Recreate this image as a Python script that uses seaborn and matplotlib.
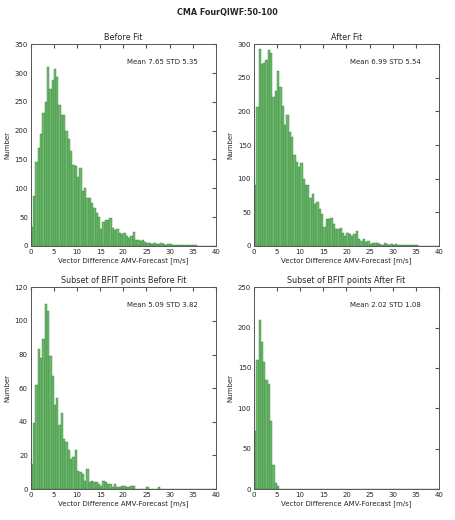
import numpy as np
import pandas as pd
import matplotlib
matplotlib.use("Agg")
import matplotlib.pyplot as plt
import seaborn as sns

# bins of 0.5 m/s from 0 to 40
edges = [i * 0.5 for i in range(81)]

before_fit = [33, 87, 145, 170, 195, 230, 250, 310, 272, 288,
              307, 293, 245, 227, 228, 200, 185, 165, 140, 138,
              120, 135, 95, 100, 83, 83, 75, 65, 58, 50,
              30, 42, 45, 45, 48, 32, 27, 30, 22, 20,
              22, 18, 13, 18, 25, 10, 10, 8, 10, 7,
              5, 6, 4, 5, 4, 3, 5, 4, 2, 3,
              3, 2, 1, 2, 1, 1, 1, 1, 2, 1,
              2, 1, 0, 0, 0, 0, 0, 0, 0, 0]

after_fit = [90, 207, 293, 270, 272, 277, 292, 287, 222, 230,
             260, 237, 208, 180, 195, 170, 162, 135, 125, 118,
             123, 100, 90, 90, 72, 77, 62, 66, 55, 48,
             28, 40, 40, 42, 33, 25, 25, 27, 20, 15,
             20, 18, 15, 18, 22, 10, 8, 10, 6, 8,
             3, 5, 4, 4, 3, 2, 4, 3, 2, 3,
             2, 3, 1, 1, 1, 1, 1, 1, 2, 1,
             1, 0, 0, 0, 0, 0, 0, 0, 0, 0]

subset_before = [15, 39, 62, 83, 78, 89, 110, 106, 79, 67,
                 50, 54, 38, 45, 30, 28, 23, 18, 19, 23,
                 11, 10, 9, 5, 12, 4, 5, 4, 4, 3,
                 2, 5, 4, 3, 3, 1, 3, 1, 1, 2,
                 2, 1, 1, 2, 2, 0, 0, 0, 0, 0,
                 1, 0, 0, 0, 0, 1, 0, 0, 0, 0,
                 0, 0, 0, 0, 0, 0, 0, 0, 0, 0,
                 0, 0, 0, 0, 0, 0, 0, 0, 0, 0]

subset_after = [72, 160, 209, 182, 157, 135, 130, 84, 30, 8,
                4] + [0] * 69

titles = ["Before Fit", "After Fit",
          "Subset of BFIT points Before Fit", "Subset of BFIT points After Fit"]
stats = ["Mean 7.65 STD 5.35", "Mean 6.99 STD 5.54",
         "Mean 5.09 STD 3.82", "Mean 2.02 STD 1.08"]
ylims = [350, 300, 120, 250]
yticks = [50, 50, 20, 50]
series = [before_fit, after_fit, subset_before, subset_after]

sns.set_style("white")
plt.rcParams["font.family"] = ["DejaVu Sans"]
plt.rcParams["font.size"] = 5

fig = plt.figure(figsize=(4.55, 5.2), dpi=100)
positions = [
    [0.0675, 0.527, 0.407, 0.388],
    [0.558, 0.527, 0.407, 0.388],
    [0.0675, 0.0596, 0.407, 0.388],
    [0.558, 0.0596, 0.407, 0.388],
]

for i in range(4):
    ax = fig.add_axes(positions[i])
    df = pd.DataFrame({"diff": np.array(edges[:-1]) + 0.25, "count": series[i]})
    sns.histplot(data=df, x="diff", weights="count", bins=edges, ax=ax,
                 color="#6cbb6c", alpha=1, edgecolor="#3d7d3d", linewidth=0.3)
    ax.set_xlim(0, 40)
    ax.set_ylim(0, ylims[i])
    ax.set_xticks(np.arange(0, 41, 5))
    ax.set_yticks(np.arange(0, ylims[i] + 1, yticks[i]))
    ax.tick_params(direction="in", top=True, right=True, length=3,
                   labelsize=5, pad=2, color="#555555")
    for s in ax.spines.values():
        s.set_color("#555555")
        s.set_linewidth(0.7)
    ax.set_title(titles[i], fontsize=5.8, pad=3)
    ax.set_ylabel("Number", fontsize=5, labelpad=3)
    ax.set_xlabel("Vector Difference AMV-Forecast [m/s]", fontsize=5, labelpad=2)
    ax.text(0.9, 0.9, stats[i], transform=ax.transAxes, fontsize=5, ha="right")

fig.suptitle("CMA FourQIWF:50-100", fontsize=5.8, fontweight="bold", y=0.985)

fig.savefig("out.png", dpi=100)
